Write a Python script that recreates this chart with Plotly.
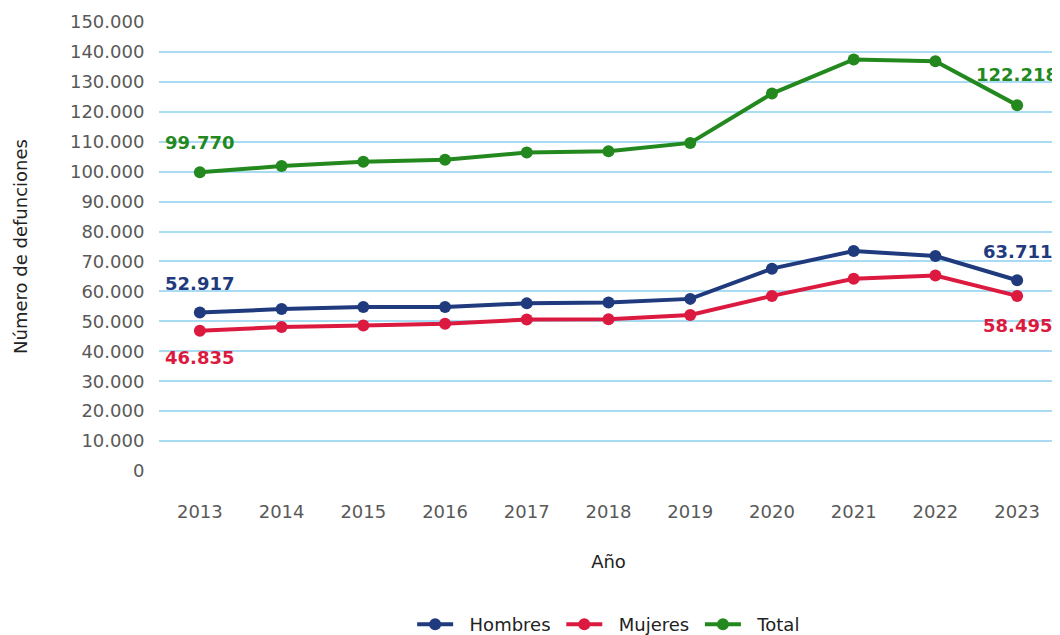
import plotly.graph_objects as go

years = [2013, 2014, 2015, 2016, 2017, 2018, 2019, 2020, 2021, 2022, 2023]
hombres = [52917, 54100, 54800, 54800, 56000, 56300, 57500, 67600, 73500, 71800, 63711]
mujeres = [46835, 48100, 48600, 49200, 50600, 50700, 52100, 58500, 64200, 65300, 58495]
total = [99770, 101900, 103300, 104000, 106400, 106800, 109600, 126100, 137500, 136900, 122218]

y_ticks = list(range(0, 150001, 10000))
y_tick_labels = [f"{v:,}".replace(",", ".") for v in y_ticks]

series = [
    ("Hombres", hombres, "#1f3a7d"),
    ("Mujeres", mujeres, "#dc1a40"),
    ("Total", total, "#23891f"),
]

fig = go.Figure()
for name, vals, color in series:
    fig.add_trace(go.Scatter(
        x=years, y=vals, name="\u00a0\u00a0" + name + "\u00a0", mode="lines+markers",
        line=dict(color=color, width=4),
        marker=dict(color=color, size=12),
    ))

def fmt(v):
    return f"{v:,}".replace(",", ".")

# first / last value labels (yshift > 0 = above the point)
labels = [
    (years[0], total[0], "#23891f", 30),
    (years[-1], total[-1], "#23891f", 31),
    (years[0], hombres[0], "#1f3a7d", 29),
    (years[-1], hombres[-1], "#1f3a7d", 29),
    (years[0], mujeres[0], "#dc1a40", -27),
    (years[-1], mujeres[-1], "#dc1a40", -30),
]
for x, y, c, dy in labels:
    fig.add_annotation(x=x, y=y, xref="x", yref="y", text=fmt(y), showarrow=False,
                       yshift=dy,
                       font=dict(family="DejaVu Sans", size=18, color=c, weight="bold"))

fig.update_xaxes(
    range=[years[0] - 0.5, years[-1] + 0.5], tickvals=years,
    ticktext=[str(y) for y in years],
    title=dict(text="Año", font=dict(size=18, color="#222222"), standoff=34),
    tickfont=dict(size=18, color="#595959"),
    ticks="outside", ticklen=24, tickcolor="rgba(0,0,0,0)",
    showgrid=False, showline=False, zeroline=False, automargin=False,
)
fig.update_yaxes(
    range=[0, 150000], tickvals=y_ticks, ticktext=y_tick_labels,
    tickfont=dict(size=18, color="#595959"),
    ticks="outside", ticklen=10, tickcolor="rgba(0,0,0,0)",
    title=dict(text="Número de defunciones", font=dict(size=18, color="#222222"), standoff=37),
    gridcolor="#a9dcf2", gridwidth=1.5, zeroline=False, showline=False, automargin=False,
)

fig.update_layout(
    width=1060, height=635,
    font=dict(family="DejaVu Sans"),
    plot_bgcolor="white", paper_bgcolor="white",
    margin=dict(l=151, r=10, t=14, b=172),
    showlegend=True,
    legend=dict(orientation="h", x=0.569, xanchor="center", xref="container",
                y=0, yanchor="bottom", yref="container",
                font=dict(size=18, color="#222222"), itemwidth=36),
)

fig.write_html("out.html")
